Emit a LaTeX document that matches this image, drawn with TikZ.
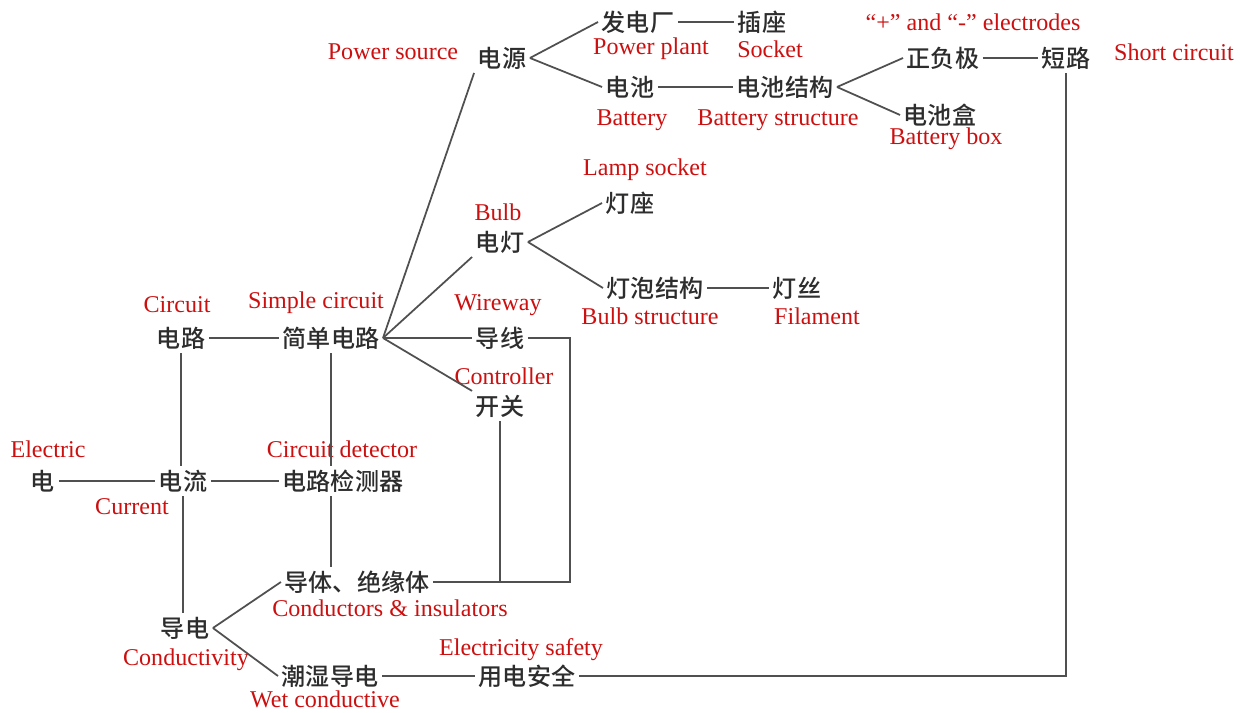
\documentclass[tikz,border=0pt]{standalone}
\usepackage{fontspec}
\setmainfont{Liberation Serif}
\newfontfamily\cjk{Noto Sans CJK SC}[UprightFont=* Medium]
\usetikzlibrary{positioning}
\definecolor{labred}{RGB}{204,16,16}
\definecolor{cngray}{RGB}{45,45,45}
\definecolor{wiregray}{RGB}{80,80,80}

\begin{document}
\begin{tikzpicture}[x=0.02cm, y=-0.02cm,
concept/.style={inner sep=2pt, text=cngray, font=\cjk\fontsize{13.7}{16}\selectfont},
eng/.style={inner sep=0pt, text=labred, font=\fontsize{13.7}{16}\selectfont},
link/.style={draw=wiregray, line width=1pt}]
\useasboundingbox (0,0) rectangle (1244,713);

% concepts
\node(dianyuan) [concept] at (502,58) {电源};
\node(fadian) [concept] at (638,22) {发电厂};
\node(chazuo) [concept] at (762,22) {插座};
\node(dianchi) [concept] at (630,87) {电池};
\node(chijiegou) [concept] at (785,87) {电池结构};
\node(zhengfu) [concept] at (943,58) {正负极};
\node(duanlu) [concept] at (1066,58) {短路};
\node(chihe) [concept] at (940,115) {电池盒};
\node(dengzuo) [concept] at (630,203) {灯座};
\node(diandeng) [concept] at (500,242) {电灯};
\node(paojiegou) [concept] at (655,288) {灯泡结构};
\node(dengsi) [concept] at (797,288) {灯丝};
\node(dianlu) [concept] at (181,338) {电路};
\node(jiandan) [concept] at (331,338) {简单电路};
\node(daoxian) [concept] at (500,338) {导线};
\node(kaiguan) [concept] at (500,406) {开关};
\node(dian) [concept] at (43,481) {电};
\node(dianliu) [concept] at (183,481) {电流};
\node(jiance) [concept] at (343,481) {电路检测器};
\node(daoti) [concept] at (357,582) {导体、绝缘体};
\node(daodian) [concept] at (185,628) {导电};
\node(chaoshi) [concept] at (330,676) {潮湿导电};
\node(anquan) [concept] at (527,676) {用电安全};

% english labels
\node(l-dianyuan) [eng] at (393,52) {Power source};
\node(l-fadian) [eng] at (651,49) {Power plant};
\node(l-chazuo) [eng] at (770,49) {Socket};
\node(l-dianchi) [eng] at (632,120) {Battery};
\node(l-chijiegou) [eng] at (778,120) {Battery structure};
\node(l-zhengfu) [eng] at (973,22) {“+” and “-” electrodes};
\node(l-duanlu) [eng] at (1174,52) {Short circuit};
\node(l-chihe) [eng] at (946,139) {Battery box};
\node(l-dengzuo) [eng] at (645,170) {Lamp socket};
\node(l-diandeng) [eng] at (498,212) {Bulb};
\node(l-paojiegou) [eng] at (650,316) {Bulb structure};
\node(l-dengsi) [eng] at (817,316) {Filament};
\node(l-dianlu) [eng] at (177,305) {Circuit};
\node(l-jiandan) [eng] at (316,303) {Simple circuit};
\node(l-daoxian) [eng] at (498,305) {Wireway};
\node(l-kaiguan) [eng] at (504,376) {Controller};
\node(l-dian) [eng] at (48,449) {Electric};
\node(l-jiance) [eng] at (342,449) {Circuit detector};
\node(l-dianliu) [eng] at (132,507) {Current};
\node(l-daoti) [eng] at (390,608) {Conductors \& insulators};
\node(l-daodian) [eng] at (186,660) {Conductivity};
\node(l-anquan) [eng] at (521,650) {Electricity safety};
\node(l-chaoshi) [eng] at (325,699) {Wet conductive};

% links
\draw[link] (dianyuan.east) -- (fadian.west);
\draw[link] (dianyuan.east) -- (dianchi.west);
\draw[link] (fadian) -- (chazuo);
\draw[link] (dianchi) -- (chijiegou);
\draw[link] (chijiegou.east) -- (zhengfu.west);
\draw[link] (chijiegou.east) -- (chihe.west);
\draw[link] (zhengfu) -- (duanlu);
\draw[link] (duanlu.south) |- (anquan.east);
\draw[link] (jiandan.east) -- (dianyuan.south west);
\draw[link] (jiandan.east) -- (diandeng.south west);
\draw[link] (jiandan.east) -- (daoxian.west);
\draw[link] (jiandan.east) -- (kaiguan.north west);
\draw[link] (diandeng.east) -- (dengzuo.west);
\draw[link] (diandeng.east) -- (paojiegou.west);
\draw[link] (paojiegou) -- (dengsi);
\draw[link] (dianlu) -- (jiandan);
\draw[link] (dianlu.south) -- (dianlu.south |- dianliu.north);
\draw[link] (dian) -- (dianliu);
\draw[link] (dianliu) -- (jiance);
\draw[link] (jiandan.south) -- (jiandan.south |- jiance.north);
\draw[link] (jiance.south -| jiandan) -- (daoti.north -| jiandan);
\draw[link] (dianliu.south) -- (dianliu.south |- daodian.north);
\draw[link] (daodian.east) -- (daoti.west);
\draw[link] (daodian.east) -- (chaoshi.west);
\draw[link] (chaoshi) -- (anquan);
\coordinate (wirebend) at (570,338);
\draw[link] (daoxian) -- (wirebend) |- (daoti.east);
\draw[link] (kaiguan.south) -- (kaiguan.south |- daoti.east);
\end{tikzpicture}
\end{document}
